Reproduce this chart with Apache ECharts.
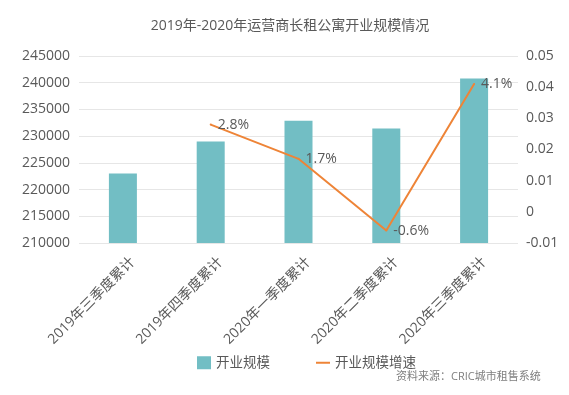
<!DOCTYPE html>
<html>
<head>
<meta charset="utf-8">
<script src="https://cdn.jsdelivr.net/npm/echarts@6/dist/echarts.min.js"></script>
<style>
html,body{margin:0;padding:0;background:#fff;}
#chart{width:569px;height:395px;}
</style>
</head>
<body>
<div id="chart"></div>
<script>
// ---- data ----
const titleText = '2019年-2020年运营商长租公寓开业规模情况';
const sourceText = '资料来源：CRIC城市租售系统';
const categories = ['2019年三季度累计', '2019年四季度累计', '2020年一季度累计', '2020年二季度累计', '2020年三季度累计'];
const seriesNames = ['开业规模', '开业规模增速'];
const openScale = [223000, 229000, 232900, 231450, 240800];
const openGrowth = [null, 0.028, 0.017, -0.006, 0.041];
const leftTicks = [210000, 215000, 220000, 225000, 230000, 235000, 240000, 245000];
const rightTicks = [-0.01, 0, 0.01, 0.02, 0.03, 0.04, 0.05];

// ---- chart ----
const FONT = '"Open Sans","Noto Sans CJK SC",sans-serif';
const TEXT = '#595959';
const chart = echarts.init(document.getElementById('chart'), null, {renderer: 'canvas'});
chart.setOption({
  animation: false,
  backgroundColor: '#ffffff',
  textStyle: {fontFamily: FONT},
  graphic: [
    {type: 'text', x: 290, y: 19, style: {text: titleText, fill: TEXT, font: '14px ' + FONT, textAlign: 'center'}, z: 10},
    {type: 'text', x: 396, y: 371, style: {text: sourceText, fill: '#7f7f7f', font: '11px ' + FONT}}
  ],
  legend: {
    left: 192, top: 351,
    itemWidth: 14, itemHeight: 13, itemGap: 46,
    textStyle: {color: TEXT, fontSize: 13.5, fontFamily: FONT},
    data: [
      {name: seriesNames[0], icon: 'rect', itemStyle: {color: '#72bec4'}},
      {name: seriesNames[1], icon: 'path://M0,0 H14 V2 H0 Z', itemStyle: {color: '#ee8437'}}
    ]
  },
  grid: {left: 79, right: 51, top: 56, bottom: 152, containLabel: false},
  xAxis: {
    type: 'category',
    data: categories,
    axisLine: {show: false},
    axisTick: {show: false},
    axisLabel: {rotate: 45, margin: 7, color: TEXT, fontSize: 14, fontFamily: FONT, interval: 0,
      verticalAlign: 'top', lineHeight: 28}
  },
  yAxis: [
    {
      type: 'value',
      min: leftTicks[0], max: leftTicks[leftTicks.length - 1], interval: leftTicks[1] - leftTicks[0],
      axisLine: {show: false}, axisTick: {show: false},
      axisLabel: {color: TEXT, fontSize: 14, fontFamily: FONT, margin: 9, formatter: v => String(v)},
      splitLine: {lineStyle: {color: '#e6e6e6', width: 1}}
    },
    {
      type: 'value',
      min: rightTicks[0], max: rightTicks[rightTicks.length - 1], interval: 0.01,
      axisLine: {show: false}, axisTick: {show: false},
      axisLabel: {color: TEXT, fontSize: 14, fontFamily: FONT, margin: 8,
        formatter: v => String(Math.round(v * 100) / 100)},
      splitLine: {show: false}
    }
  ],
  series: [
    {
      name: seriesNames[0], type: 'bar', yAxisIndex: 0,
      data: openScale, barWidth: 28,
      itemStyle: {color: '#72bec4'}
    },
    {
      name: seriesNames[1], type: 'line', yAxisIndex: 1,
      data: openGrowth, connectNulls: false,
      symbol: 'circle', symbolSize: 2,
      itemStyle: {color: '#ee8437'},
      lineStyle: {color: '#ee8437', width: 2},
      label: {show: true, position: 'right', distance: 6, color: TEXT, fontSize: 14, fontFamily: FONT,
        formatter: p => (p.value * 100).toFixed(1) + '%'}
    }
  ]
});
</script>
</body>
</html>
